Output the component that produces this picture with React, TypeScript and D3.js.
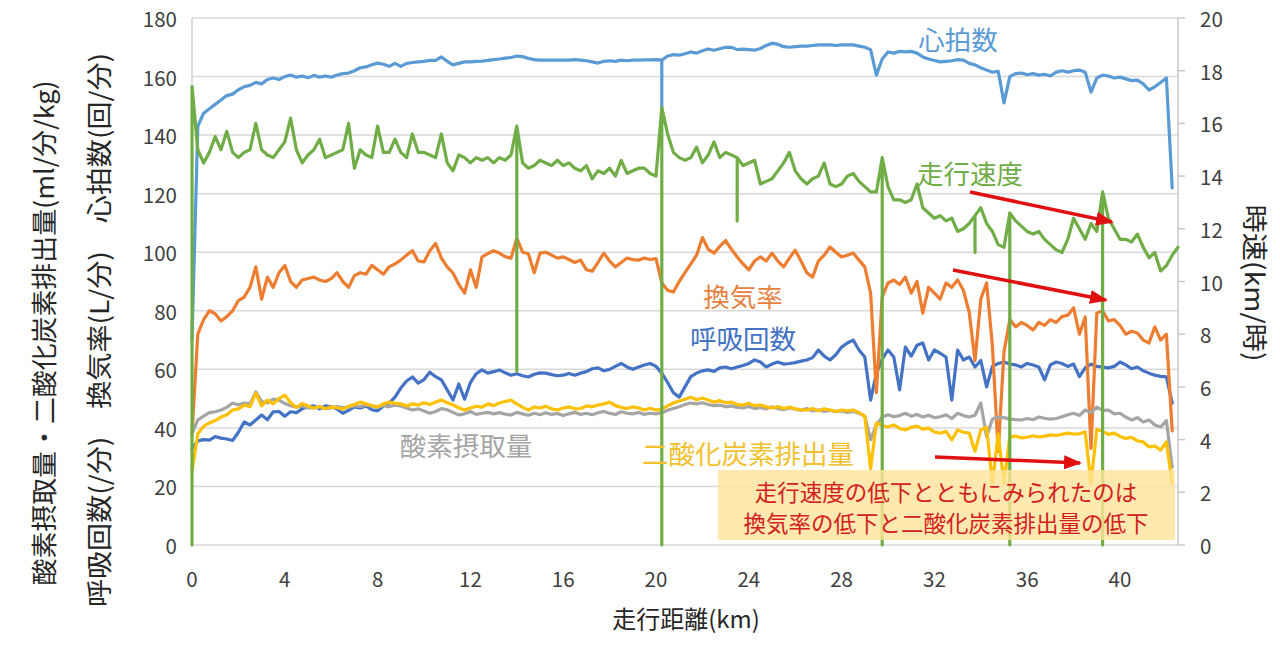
import React from "react";
import * as d3 from "d3";

// ---- data (sampled every 0.25 km) ----
const STEP_KM = 0.25;

const heartRate = [
  70, 143, 147.5, 149, 150.5, 152, 153.5, 154, 155.5, 156.5,
  157, 158, 157.5, 159, 159.5, 159, 160, 160.5, 159.8, 160.2,
  159.6, 160.4, 159.8, 160.2, 159.8, 160.5, 161, 161.2, 162, 163,
  163.3, 164, 164.6, 164.2, 163.5, 164.5, 163.5, 164.5, 164.8, 165,
  165.2, 165.5, 165.5, 166.7, 165.2, 164, 164.5, 165, 165, 165.2,
  165.3, 165.5, 165.8, 166, 166.3, 166.5, 167, 166.8, 166.2, 165.8,
  165.6, 165.6, 165.6, 165.6, 165.6, 165.6, 165.8, 165.6, 165.4, 165,
  164.6, 165.2, 165.4, 165.2, 165.6, 165.4, 165.6, 165.6, 165.7, 165.7,
  165.8, 165.6, 167, 167.5, 167.3, 167.8, 168.4, 168, 168.8, 169.4,
  169, 169.5, 170, 170, 169.2, 169.4, 169.2, 169, 169.6, 170.6,
  171.4, 171, 170.2, 170, 170.2, 170.4, 170.4, 170.6, 170.8, 170.8,
  170.8, 170.6, 170.8, 170.8, 170.8, 170.4, 170, 169.2, 160.5, 166,
  168.4, 168, 168.6, 168.4, 168.6, 168, 166.7, 166, 165.5, 165,
  165.2, 165.4, 165.8, 165.6, 164.5, 164, 163, 162.2, 161.5, 161.8,
  151, 160, 161, 161.2, 160.6, 161, 160.5, 160.8, 160.2, 161.5,
  162, 161.5, 162, 162.2, 161.5, 154.7, 159.5, 160.5, 160.2, 159.5,
  159.8, 159.2, 158.6, 158.8, 157.5, 155.4, 156.5, 158, 159.5, 122,
];

const speed = [
  17.4, 15.0, 14.5, 14.9, 15.5, 15.0, 15.7, 14.9, 14.7, 14.9,
  15.0, 16.0, 15.0, 14.8, 14.7, 15.0, 15.3, 16.2, 15.0, 14.5,
  14.8, 15.0, 15.4, 14.7, 14.8, 14.9, 15.0, 16.0, 14.3, 15.0,
  14.8, 14.7, 15.9, 14.9, 14.9, 15.4, 14.9, 14.7, 15.6, 14.9,
  14.9, 14.8, 14.7, 15.6, 14.5, 14.2, 14.8, 14.7, 14.5, 14.7,
  14.6, 14.7, 14.5, 14.7, 14.6, 14.8, 15.9, 14.5, 14.3, 14.4,
  14.6, 14.5, 14.4, 14.6, 14.4, 14.5, 14.3, 14.2, 14.4, 13.9,
  14.2, 14.1, 14.3, 14.0, 14.6, 14.1, 14.2, 14.3, 14.3, 14.1,
  14.0, 16.6, 15.6, 14.9, 14.7, 14.6, 14.7, 15.1, 14.5, 14.8,
  15.3, 14.7, 14.9, 14.8, 14.7, 14.4, 14.5, 14.6, 13.7, 13.8,
  13.9, 14.2, 14.5, 14.9, 14.2, 13.9, 13.7, 13.9, 14.0, 14.5,
  13.7, 13.6, 13.7, 14.0, 14.1, 13.8, 13.6, 13.4, 13.4, 14.7,
  13.6, 13.1, 13.1, 13.0, 13.1, 13.7, 12.8, 12.6, 12.4, 12.5,
  12.3, 12.4, 11.9, 12.0, 12.2, 12.5, 12.8, 12.2, 11.9, 11.4,
  11.3, 12.6, 12.3, 12.1, 11.9, 11.8, 11.9, 11.6, 11.4, 11.2,
  11.1, 11.6, 12.4, 12.0, 11.6, 12.2, 11.9, 13.4, 12.4, 12.0,
  11.6, 11.6, 11.5, 11.8, 11.3, 10.9, 11.1, 10.4, 10.6, 11.0, 11.3,
];

const ventilation = [
  38, 72, 77, 80, 79, 76.5, 78, 80, 83.5, 84.7,
  88, 95, 84, 91.5, 88, 93, 95.5, 90, 88, 90.5,
  91, 91.5, 90.5, 90, 91, 93, 90, 88, 92, 93,
  92.5, 95.5, 94, 92.5, 95, 96, 97.3, 99, 100.5, 97,
  96.7, 100.5, 103, 98, 95, 92.9, 89, 86, 94, 88,
  98.4, 99.5, 100.5, 99.7, 98.5, 98, 104.8, 100, 99.5, 93,
  99.7, 100, 99, 98, 98.4, 97.5, 96.5, 97.3, 94, 93.5,
  96.5, 99.7, 97, 95, 96.5, 98, 97.5, 97.3, 98, 97.5,
  97.8, 89.5, 87, 86.4, 90, 93, 96, 99, 105, 101,
  99.7, 102, 104, 101, 98.4, 96, 94, 97, 98.4, 97,
  99.7, 97, 95, 98, 100.7, 97, 93, 91.5, 97, 99,
  101.8, 100, 98.4, 99, 99.7, 97.3, 95, 86, 52, 84.7,
  89.5, 90.5, 89, 91.5, 86, 90, 79.2, 88, 86, 84,
  89.5, 88, 90.5, 87, 79.5, 63, 84, 89.5, 68, 32,
  66, 77, 74.5, 76, 75, 73.4, 76, 75, 77, 76,
  78, 78.5, 81, 72, 77.9, 33, 79.2, 80, 76.5, 77,
  75, 72, 73, 72.4, 70, 69, 74.5, 70, 72, 39,
];

const respRate = [
  33, 35.5, 36, 35.8, 37, 36.5, 36.2, 35.7, 38.5, 42,
  41, 42.7, 44.4, 42.8, 45.5, 45.6, 44, 45.5, 45.2, 46.5,
  47.2, 47.5, 46.5, 47.5, 47.2, 46.5, 45, 46, 47.2, 46.8,
  47.5, 46.2, 45.8, 47.5, 48.5, 50.5, 53.6, 56, 57.4, 55.3,
  56.5, 59, 57.5, 56.4, 53, 49.5, 55, 49.8, 55.5, 58.5,
  59.8, 58.7, 59.2, 59.8, 58.8, 58, 58.5, 57.8, 57.4, 58.3,
  58.8, 58.7, 58.2, 57.8, 58, 58.6, 58, 58.7, 59.2, 60.2,
  60.5, 59.5, 60, 61, 62, 60.8, 60, 60.8, 61.5, 62,
  61, 58.7, 55.5, 52, 50.5, 54, 57.5, 58.7, 59.5, 59.8,
  59.3, 60.5, 60.8, 60.2, 60.8, 61.3, 62, 63.2, 62.5, 60.8,
  61.8, 62.5, 61.8, 62, 62.3, 62.8, 63.2, 64, 66.6, 64.5,
  63.2, 65, 67.6, 69, 70, 66.6, 64.2, 49.5, 58.7, 63.5,
  66.6, 64.2, 53, 67.6, 64.5, 68.2, 69, 63.2, 66.6, 65.5,
  64.2, 49.5, 66.6, 63.2, 64.2, 60.8, 63, 54, 61, 62,
  62.5, 61.8, 61.5, 60.8, 62, 61.5, 60.8, 56.4, 61.5, 62.5,
  62, 61, 61.8, 57.5, 60.5, 61.8, 61, 60.8, 60.5, 61,
  62.5, 61.5, 60.2, 60.8, 59.5, 58.7, 58, 57.6, 57.4, 48.5,
];

const o2Uptake = [
  38, 42.7, 44, 45.2, 45.5, 46.1, 47, 48.5, 47.8, 48.5,
  48.2, 52.3, 49, 48.5, 49.8, 49.5, 48.3, 47.6, 47.1, 47.5,
  46.8, 46.8, 47.2, 46.6, 46.8, 47.3, 46.9, 47, 47.6, 47.3,
  47.8, 47.4, 47.1, 47.6, 47.2, 47.8, 47.5, 46.8, 46.1, 46.5,
  45.8, 45, 45.6, 46.6, 46.2, 45.3, 44.4, 44.8, 45.6, 44.6,
  45, 45.3, 44.8, 45.2, 44.7, 44.4, 45.3, 44.8, 44.3, 45,
  44.5, 45.2, 44.6, 44.9, 44.2, 44.8, 45.3, 44.6, 45, 44.5,
  45.2, 45.6, 45, 44.6, 45.5, 45, 44.8, 45.3, 44.6, 45,
  44.8, 45.2, 46, 46.6, 47.2, 48, 48.5, 48.2, 48.6, 48,
  47.6, 47.8, 47.2, 47.5, 47, 46.8, 47.3, 46.6, 47, 46.5,
  47.2, 46.6, 46.2, 46.8, 46.4, 46, 46.6, 45.8, 46.2, 45.6,
  46, 45.5, 45.8, 45.3, 45.6, 45, 44, 36, 41, 43.7,
  44.5, 43.8, 44.2, 45, 44, 44.6, 43.7, 44.3, 43.5, 43.8,
  44.5, 43.2, 45, 44.2, 43.7, 44.3, 48.5, 37, 43, 43.7,
  43.5, 43, 42.8, 42.7, 43.2, 42.8, 43.7, 43.3, 43, 43.2,
  43.8, 44.5, 45, 44.2, 46.1, 45.2, 47.1, 46, 46.1, 44.8,
  45, 43.7, 42.7, 43.5, 42, 42.7, 41, 40.3, 42.5, 26.6,
];

const co2Output = [
  25, 38, 40.5, 41.7, 42.5, 43.7, 44.5, 46.1, 46.5, 47.8,
  47.2, 51.9, 47.5, 49.5, 48.2, 50, 51.2, 48.6, 47, 48.3,
  47.5, 46.8, 47.3, 46.5, 47.2, 46.9, 46.4, 47.4, 48, 48.8,
  48.2, 47.6, 47.2, 48.2, 48.8, 48.4, 48.2, 47.5, 48.2, 47.8,
  48.6, 48, 48.8, 49.5, 48.6, 47.8, 46.9, 46.1, 46.8, 47.4,
  47.1, 48.2, 47.6, 48.5, 49, 49.5, 48.2, 47, 46.1, 47.2,
  46.8, 47.4, 46.5, 46.1, 46.8, 47.2, 46.5, 46.6, 47.5, 47.2,
  47.8, 48.2, 48.8, 47.6, 47, 46.6, 47.2, 46.8, 46.1, 46.7,
  46.1, 46.4, 47.5, 48.5, 49.2, 49.8, 50.5, 49.6, 50.2, 49.5,
  48.8, 49.3, 48.6, 48.8, 48, 47.8, 48.4, 47.6, 47.8, 47.2,
  46.8, 47.3, 46.6, 47.1, 46.5, 46.2, 46.1, 46.6, 45.8, 46.5,
  46.1, 45.6, 46.1, 45.8, 46.1, 45.2, 44, 26, 41.7, 40.8,
  40.3, 41, 39.8, 39.3, 40.2, 40.6, 39.6, 39.9, 38.6, 38.2,
  38.8, 35.9, 39.3, 38.5, 38.2, 32, 39.3, 40.2, 21, 38,
  21, 36.9, 37.2, 36.6, 36.8, 37.3, 36.9, 37.2, 37.6, 37.4,
  37.8, 38.2, 37.9, 38, 38.6, 21, 39.5, 38.8, 37.8, 38.2,
  37.1, 36.4, 36.8, 35.6, 35.2, 33.5, 33.8, 32.4, 35.2, 21,
];

// momentary sensor dropouts: [km, value reached]
const speedDrops: [number, number][] = [
  [0, 0], [14, 6.6], [20.25, 0], [23.5, 12.3], [29.75, 0], [33.75, 11.1], [35.25, 0], [39.25, 0],
];
const heartDrops: [number, number][] = [[20.25, 144]];

const leftTicks = [0, 20, 40, 60, 80, 100, 120, 140, 160, 180];
const rightTicks = [0, 2, 4, 6, 8, 10, 12, 14, 16, 18, 20];
const xTicks = [0, 4, 8, 12, 16, 20, 24, 28, 32, 36, 40];

const FONT = '"Noto Sans CJK JP", "Noto Sans", sans-serif';

function toPoints(values: number[], drops: [number, number][] = []) {
  const pts: [number, number][] = [];
  values.forEach((v, i) => {
    const km = i * STEP_KM;
    pts.push([km, v]);
    const d = drops.find((dd) => Math.abs(dd[0] - km) < 1e-6);
    if (d) {
      pts.push([km, d[1]]);
      pts.push([km, v]);
    }
  });
  return pts;
}

export default function App() {
  const W = 1280;
  const H = 647;
  const x = d3.scaleLinear().domain([0, 42.5]).range([192, 1178]);
  const yL = d3.scaleLinear().domain([0, 180]).range([545, 18]);
  const yR = d3.scaleLinear().domain([0, 20]).range([545, 18]);

  const lineL = d3
    .line<[number, number]>()
    .x((d) => x(d[0]))
    .y((d) => yL(d[1]));
  const lineR = d3
    .line<[number, number]>()
    .x((d) => x(d[0]))
    .y((d) => yR(d[1]));

  const series = [
    { key: "resp", d: lineL(toPoints(respRate)), color: "#4472c4" },
    { key: "vent", d: lineL(toPoints(ventilation)), color: "#ed7d31" },
    { key: "o2", d: lineL(toPoints(o2Uptake)), color: "#a5a5a5" },
    { key: "co2", d: lineL(toPoints(co2Output)), color: "#ffc000" },
    { key: "hr", d: lineL(toPoints(heartRate, heartDrops)), color: "#5b9bd5" },
    { key: "spd", d: lineR(toPoints(speed, speedDrops)), color: "#70ad47" },
  ];

  const arrows = [
    [970, 192, 1112, 222],
    [953, 270, 1106, 300],
    [935, 457, 1080, 463],
  ];

  return (
    <svg
      width={W}
      height={H}
      style={{ position: "absolute", left: 0, top: 0, background: "#fff" }}
      fontFamily={FONT}
    >
      <defs>
        <marker
          id="ah"
          markerUnits="userSpaceOnUse"
          markerWidth="18"
          markerHeight="14"
          refX="16"
          refY="7"
          orient="auto"
        >
          <path d="M0,0 L18,7 L0,14 Z" fill="#e01010" />
        </marker>
      </defs>
      <rect x={0} y={0} width={W} height={H} fill="#fff" />

      {/* gridlines */}
      {leftTicks.map((t) => (
        <line key={"g" + t} x1={192} x2={1178} y1={yL(t)} y2={yL(t)} stroke="#d9d9d9" strokeWidth={1.5} />
      ))}
      <line x1={192} x2={192} y1={18} y2={545} stroke="#d0d0d0" strokeWidth={1.5} />
      <line x1={1178} x2={1178} y1={18} y2={545} stroke="#c8c8c8" strokeWidth={1.5} />
      {rightTicks.map((t) => (
        <line key={"rt" + t} x1={1178} x2={1185} y1={yR(t)} y2={yR(t)} stroke="#c8c8c8" strokeWidth={1.5} />
      ))}

      {/* tick labels */}
      {leftTicks.map((t) => (
        <text key={"lt" + t} x={177} y={yL(t)} textAnchor="end" dominantBaseline="central" fontSize={20.5} fill="#404040">
          {t}
        </text>
      ))}
      {rightTicks.map((t) => (
        <text key={"rl" + t} x={1200} y={yR(t)} textAnchor="start" dominantBaseline="central" fontSize={20.5} fill="#404040">
          {t}
        </text>
      ))}
      {xTicks.map((t) => (
        <text key={"xt" + t} x={x(t)} y={578} textAnchor="middle" dominantBaseline="central" fontSize={20.5} fill="#404040">
          {t}
        </text>
      ))}

      {/* series */}
      {series.map((s) => (
        <path key={s.key} d={s.d || ""} fill="none" stroke={s.color} strokeWidth={3.2} strokeLinejoin="round" strokeLinecap="round" />
      ))}

      {/* annotation box */}
      <rect x={718} y={470} width={457} height={70} fill="#ffe49a" opacity={0.8} />
      <text x={946} y={491} textAnchor="middle" dominantBaseline="central" fontSize={22.5} fill="#d42020">
        走行速度の低下とともにみられたのは
      </text>
      <text x={946} y={522} textAnchor="middle" dominantBaseline="central" fontSize={22.5} fill="#d42020">
        換気率の低下と二酸化炭素排出量の低下
      </text>

      {/* arrows */}
      {arrows.map((a, i) => (
        <line key={"a" + i} x1={a[0]} y1={a[1]} x2={a[2]} y2={a[3]} stroke="#e01010" strokeWidth={3.5} markerEnd="url(#ah)" />
      ))}

      {/* series labels */}
      <text x={958} y={38} textAnchor="middle" dominantBaseline="central" fontSize={26.5} fill="#5b9bd5">心拍数</text>
      <text x={970} y={172} textAnchor="middle" dominantBaseline="central" fontSize={26.5} fill="#70ad47">走行速度</text>
      <text x={743} y={295} textAnchor="middle" dominantBaseline="central" fontSize={26.5} fill="#e8813f">換気率</text>
      <text x={743} y={337} textAnchor="middle" dominantBaseline="central" fontSize={26.5} fill="#4472c4">呼吸回数</text>
      <text x={466} y={444} textAnchor="middle" dominantBaseline="central" fontSize={26.5} fill="#a5a5a5">酸素摂取量</text>
      <text x={748} y={452} textAnchor="middle" dominantBaseline="central" fontSize={26.5} fill="#f2c12e">二酸化炭素排出量</text>

      {/* axis titles */}
      <text
        transform="translate(42,333) rotate(-90)"
        textAnchor="middle"
        dominantBaseline="central"
        fontSize={26}
        fill="#262626"
        textLength={505}
        lengthAdjust="spacingAndGlyphs"
      >
        酸素摂取量・二酸化炭素排出量(ml/分/kg)
      </text>
      <text
        transform="translate(97,330) rotate(-90)"
        textAnchor="middle"
        dominantBaseline="central"
        fontSize={26}
        fill="#262626"
        textLength={554}
        lengthAdjust="spacingAndGlyphs"
      >
        呼吸回数(/分)　換気率(L/分)　心拍数(回/分)
      </text>
      <text
        transform="translate(1256,283) rotate(90)"
        textAnchor="middle"
        dominantBaseline="central"
        fontSize={26}
        fill="#262626"
        textLength={157}
        lengthAdjust="spacingAndGlyphs"
      >
        時速(km/時)
      </text>
      <text x={686} y={617} textAnchor="middle" dominantBaseline="central" fontSize={24} fill="#262626">
        走行距離(km)
      </text>
    </svg>
  );
}
